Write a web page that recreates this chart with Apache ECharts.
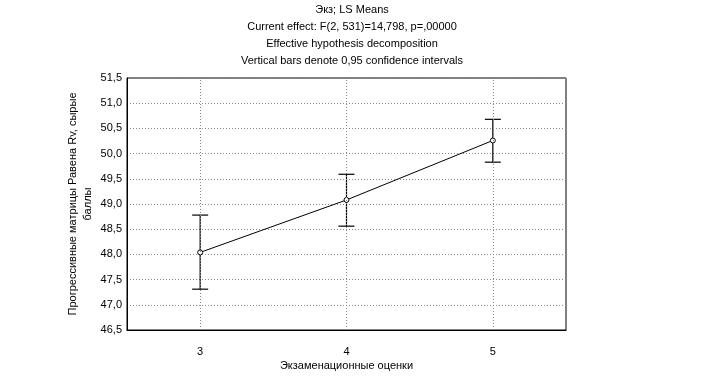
<!DOCTYPE html>
<html><head><meta charset="utf-8">
<script src="https://cdn.jsdelivr.net/npm/echarts@6/dist/echarts.min.js"></script>
<style>html,body{margin:0;padding:0;background:#fff}#c{width:714px;height:385px}</style>
</head><body><div id="c"></div>
<script>
const categories = [3, 4, 5];
const means = [48.04, 49.08, 50.26];
const lower = [47.31, 48.56, 49.83];
const upper = [48.78, 49.59, 50.68];
const titleLines = ['Экз; LS Means', 'Current effect: F(2, 531)=14,798, p=,00000', 'Effective hypothesis decomposition', 'Vertical bars denote 0,95 confidence intervals'];
const xName = 'Экзаменационные оценки';
const yName = 'Прогрессивные матрицы Равена Rv, сырые\nбаллы';

const font = 'Liberation Sans, Arial, sans-serif';
const chart = echarts.init(document.getElementById('c'));
chart.setOption({
  backgroundColor: '#fff',
  animation: false,
  title: {
    text: titleLines.join('\n'), left: 347, top: -4, textAlign: 'center',
    textStyle: {fontSize: 11, fontWeight: 'normal', color: '#000', fontFamily: font, lineHeight: 17}
  },
  grid: {left: 127, right: 148, top: 78, bottom: 55, show: true, borderColor: '#000', borderWidth: 1, backgroundColor: '#fff'},
  xAxis: {
    type: 'value', min: 2.5, max: 5.5, interval: 0.5,
    name: xName, nameLocation: 'middle', nameGap: 30, nameMoveOverlap: false,
    nameTextStyle: {fontSize: 11, color: '#000', fontFamily: font},
    axisLine: {lineStyle: {color: '#000'}},
    axisTick: {show: false},
    splitLine: {show: false},
    axisLabel: {fontSize: 11, color: '#000', fontFamily: font, margin: 16,
      formatter: v => (Number.isInteger(v) ? String(v) : '')}
  },
  yAxis: {
    type: 'value', min: 46.5, max: 51.5, interval: 0.5,
    name: yName, nameLocation: 'middle', nameGap: 32, nameMoveOverlap: false,
    nameTextStyle: {fontSize: 11, color: '#000', fontFamily: font, lineHeight: 15},
    axisLine: {lineStyle: {color: '#000'}},
    axisTick: {show: false},
    splitLine: {lineStyle: {color: '#888', type: [1, 2]}},
    axisLabel: {fontSize: 11, color: '#000', fontFamily: font, margin: 5,
      formatter: v => v.toFixed(1).replace('.', ',')}
  },
  series: [
    {
      type: 'custom', z: 3,
      data: categories.map((c, i) => [c, lower[i], upper[i]]),
      renderItem: (params, api) => {
        const x = api.value(0);
        const lo = api.coord([x, api.value(1)]);
        const hi = api.coord([x, api.value(2)]);
        const w = 8;
        const st = {stroke: '#000', lineWidth: 1.2};
        return {type: 'group', children: [
          {type: 'line', shape: {x1: lo[0], y1: lo[1], x2: hi[0], y2: hi[1]}, style: st},
          {type: 'line', shape: {x1: lo[0] - w, y1: lo[1], x2: lo[0] + w, y2: lo[1]}, style: st},
          {type: 'line', shape: {x1: hi[0] - w, y1: hi[1], x2: hi[0] + w, y2: hi[1]}, style: st}
        ]};
      }
    },
    {
      type: 'line', z: 4,
      data: categories.map((c, i) => [c, means[i]]),
      symbol: 'circle', symbolSize: 5,
      lineStyle: {color: '#000', width: 1},
      itemStyle: {color: '#fff', borderColor: '#000', borderWidth: 1},
      markLine: {
        silent: true, symbol: 'none', label: {show: false},
        lineStyle: {color: '#888', type: [1, 2], width: 1},
        data: categories.map(c => ({xAxis: c}))
      }
    }
  ]
});
</script></body></html>
